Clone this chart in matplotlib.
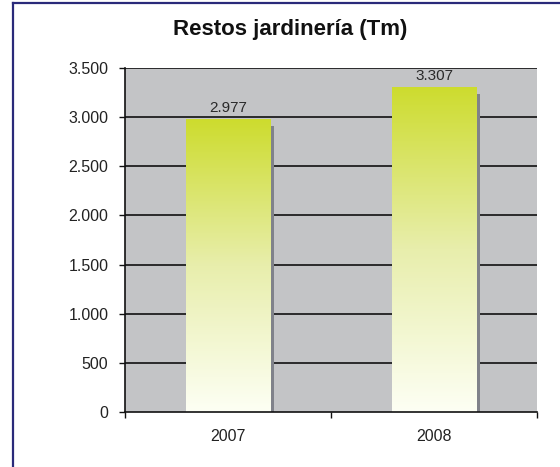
import numpy as np
import matplotlib
matplotlib.use('Agg')
import matplotlib.pyplot as plt
import matplotlib.transforms as mtransforms
from matplotlib.colors import LinearSegmentedColormap
from matplotlib.lines import Line2D

# data
years = ['2007', '2008']
toneladas = [2977, 3307]
yticks = [0, 500, 1000, 1500, 2000, 2500, 3000, 3500]
title = 'Restos jardinería (Tm)'


def fmt_miles(v):
    return f'{v:,.0f}'.replace(',', '.')


plt.rcParams['font.family'] = ['Liberation Sans', 'DejaVu Sans']

fig = plt.figure(figsize=(5.6, 4.67), dpi=100)
ax = fig.add_axes([125 / 560, 55 / 467, 412 / 560, 344 / 467])
ax.set_facecolor('#c3c4c6')

x = np.arange(len(years))
bars = ax.bar(x, toneladas, width=0.41, color='none', zorder=3)

grad = LinearSegmentedColormap.from_list('g', ['#fdfff4', '#e8eeac', '#cddc2e'])
shadow_off = mtransforms.offset_copy(ax.transData, fig=fig, x=4, y=-7, units='dots')
for b, v in zip(bars, toneladas):
    x0, w = b.get_x(), b.get_width()
    # shadow
    ax.add_patch(plt.Rectangle((x0, 0), w, v, transform=shadow_off,
                               facecolor='#80828a', edgecolor='none', zorder=2))
    img = ax.imshow(np.linspace(0, 1, 256).reshape(-1, 1), cmap=grad,
                    extent=[x0, x0 + w, 0, v], origin='lower', aspect='auto',
                    zorder=3)
    img.set_clip_path(b)
    ax.text(b.get_x() + w / 2, v + 40, fmt_miles(v), ha='center', va='bottom',
            fontsize=11, color='#2a2a2a', zorder=5)

ax.set_xlim(-0.5, len(years) - 0.5)
ax.set_ylim(0, 3500)
ax.set_yticks(yticks)
ax.set_yticklabels([fmt_miles(t) for t in yticks], fontsize=11.5, color='#222222')
for t in yticks[1:]:
    ax.axhline(t, color='#111111', lw=1.2, zorder=1)

ax.set_xticks(x)
ax.set_xticklabels(years, fontsize=11.5, color='#222222')
ax.set_xticks(np.arange(-0.5, len(years)), minor=True)
ax.tick_params(axis='x', which='major', length=0, pad=12)
ax.tick_params(axis='x', which='minor', length=4, width=1, color='#111111')
ax.tick_params(axis='y', length=4, width=1, color='#111111', pad=8)

for s in ['top', 'right']:
    ax.spines[s].set_visible(False)
for s in ['left', 'bottom']:
    ax.spines[s].set_color('#111111')
    ax.spines[s].set_linewidth(1.2)
    ax.spines[s].set_zorder(4)

fig.text(290 / 560, 1 - 30 / 467, title, ha='center', va='center', fontsize=16,
         fontweight='bold', color='#111111')

# frame
fig.add_artist(Line2D([13 / 560, 13 / 560], [0, 1 - 3 / 467], transform=fig.transFigure,
                      color='#2a2a7a', lw=1.6))
fig.add_artist(Line2D([13 / 560, 1], [1 - 3 / 467, 1 - 3 / 467], transform=fig.transFigure,
                      color='#2a2a7a', lw=1.6))

fig.savefig('out.png', dpi=100)
